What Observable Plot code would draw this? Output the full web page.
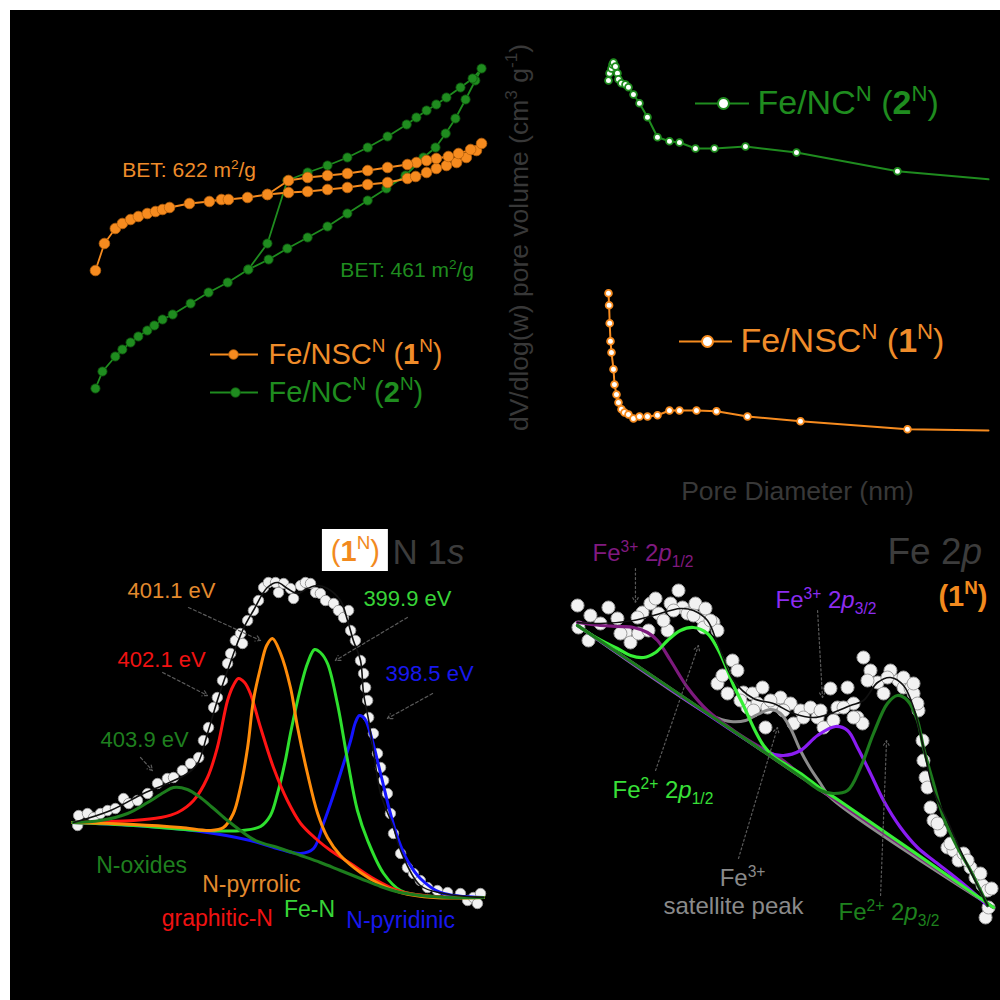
<!DOCTYPE html>
<html>
<head>
<meta charset="utf-8">
<script src="https://cdn.jsdelivr.net/npm/d3@7"></script>
<script src="https://cdn.jsdelivr.net/npm/@observablehq/plot@0.6"></script>
<style>
  html, body { margin: 0; padding: 0; background: #fff; }
  #wrap { position: relative; width: 1000px; height: 1000px; background: #fff; overflow: hidden; }
  #frame { position: absolute; left: 10px; top: 10px; width: 990px; height: 990px; background: #000; }
</style>
</head>
<body>
<div id="wrap"><div id="frame"></div></div>
<script>
// ---------------- DATA ----------------
// Panel 1: N2 sorption isotherms (relative pressure P/P0, quantity adsorbed, a.u.)
const isoFeNSC = [
  [0.005,180],[0.028,207],[0.056,222],[0.074,227],[0.095,231],[0.115,234],[0.138,237],[0.159,239],
  [0.177,241],[0.195,243],[0.246,247],[0.297,249],[0.328,251],[0.346,251],[0.395,253],[0.446,256],
  [0.500,258],[0.549,259],[0.600,261],[0.651,263],[0.703,266],[0.754,268],[0.805,272],[0.826,274],
  [0.854,278],[0.879,282],[0.905,285],[0.931,288],[0.956,293],[0.982,300],[0.995,307],
  [0.967,301],[0.936,297],[0.910,294],[0.879,292],[0.854,290],[0.828,288],[0.805,286],[0.754,283],
  [0.703,280],[0.651,277],[0.600,275],[0.549,273],[0.500,270],[0.446,256]
];
const isoFeNC = [
  [0.005,62],[0.023,79],[0.056,94],[0.074,101],[0.095,108],[0.115,114],[0.138,120],[0.156,125],
  [0.177,131],[0.203,136],[0.249,147],[0.295,158],[0.344,168],[0.397,181],[0.449,191],[0.497,202],
  [0.549,213],[0.600,224],[0.651,237],[0.703,250],[0.751,262],[0.800,275],[0.846,293],[0.877,303],
  [0.903,317],[0.928,332],[0.954,351],[0.979,370],[0.995,382],
  [0.972,372],[0.941,363],[0.905,353],[0.879,346],[0.854,340],[0.828,333],[0.803,326],[0.754,314],
  [0.703,303],[0.651,293],[0.600,285],[0.549,278],[0.497,270],[0.446,207],[0.397,181]
];
const betLabels = [
  {key:"FeNSC", text:"BET: 622 m^{2}/g", p:0.074, v:280},
  {key:"FeNC",  text:"BET: 461 m^{2}/g", p:0.633, v:180}
];
const isoLegend = [
  {key:"FeNSC", label:"Fe/NSC^{N} (**1**^{N})", v:96, p1:0.300, p2:0.423, pm:0.359, pt:0.449},
  {key:"FeNC",  label:"Fe/NC^{N} (**2**^{N})",  v:58, p1:0.300, p2:0.423, pm:0.364, pt:0.449}
];

// Panel 2: pore size distribution (pore diameter nm, dV/dlog(w))
const psdFeNC = [
  [2.0,0.900],[2.5,0.918],[3.5,0.930],[4.0,0.940],[4.5,0.945],[5.5,0.935],[6.5,0.918],[7.0,0.903],
  [8.5,0.893],[10.5,0.890],[12.0,0.883],[14.5,0.865],[17.5,0.843],[21.5,0.808],[26.5,0.758],
  [32.5,0.748],[37.5,0.745],[45.5,0.730],[55.0,0.730],[70.5,0.735],[96.0,0.720],[146.5,0.673],[192.0,0.653]
];
const psdFeNSC = [
  [2.0,0.368],[2.3,0.338],[2.6,0.293],[3.0,0.248],[3.5,0.220],[4.5,0.178],[5.0,0.140],[6.0,0.115],
  [7.0,0.095],[8.5,0.078],[10.0,0.070],[12.0,0.065],[14.5,0.055],[17.5,0.060],[21.5,0.060],
  [26.5,0.063],[32.5,0.075],[37.5,0.075],[46.0,0.075],[56.0,0.073],[71.5,0.060],[98.0,0.048],
  [151.5,0.028],[192.0,0.025]
];
const psdLegend = [
  {key:"FeNC",  label:"Fe/NC^{N} (**2**^{N})",  y:0.8425, x1:45.5, x2:72.5, xm:59.5, xt:76.5},
  {key:"FeNSC", label:"Fe/NSC^{N} (**1**^{N})", y:0.2475, x1:37.5, x2:64.0, xm:51.5, xt:68.0}
];
const psdTitles = [
  {text:"dV/dlog(w) pore volume (cm^{3} g^{-1})", d:-42.5, y:0.5075, rotate:-90},
  {text:"Pore Diameter (nm)", d:96.5, y:-0.1275, rotate:0}
];

// Panel 3: XPS N 1s (binding energy eV, intensity a.u.)
const n1sData = [
  [406.82,75],[406.79,85],[406.53,87],[406.35,83],[406.15,87],[405.94,90],[405.71,92],[405.47,102],
  [405.32,97],[405.06,100],[404.76,107],[404.47,117],[404.18,122],[404.00,123],[403.74,130],[403.50,137],
  [403.26,143],[403.12,160],[402.97,173],[402.82,193],[402.71,203],[402.56,220],[402.41,237],[402.32,247],
  [402.18,260],[402.03,267],[401.97,257],[401.82,280],[401.65,290],[401.50,300],[401.35,313],[401.21,318],
  [401.00,318],[400.91,308],[400.76,317],[400.56,312],[400.47,302],[400.26,315],[400.12,318],[399.97,317],
  [399.82,308],[399.68,307],[399.53,300],[399.29,297],[399.15,290],[399.00,283],[398.85,290],[398.79,270],
  [398.65,260],[398.50,240],[398.41,227],[398.35,213],[398.29,200],[398.26,183],[398.12,167],[398.00,147],
  [397.91,133],[397.82,120],[397.71,107],[397.62,87],[397.53,67],[397.32,47],[397.12,33],[396.94,27],
  [396.74,20],[396.53,13],[396.24,10],[395.94,8],[395.56,7],[395.35,0],[395.18,3],[394.97,7],[395.06,-3]
];
const n1sEnvelope = [
  [406.94,78],[405.85,90],[404.88,107],[404.18,117],[403.59,127],[403.29,137],[403.00,167],[402.71,200],
  [402.41,230],[401.97,270],[401.65,290],[401.24,313],[400.94,318],[400.65,312],[400.35,307],[400.06,312],
  [399.76,315],[399.47,312],[399.09,300],[398.88,280],[398.71,260],[398.50,240],[398.41,207],[398.26,180],
  [398.12,150],[397.91,107],[397.53,73],[397.32,50],[396.74,15],[396.06,7],[394.88,3]
];
const n1sOxides = [
  [406.97,78],[406.15,80],[405.35,87],[404.76,98],[404.29,108],[404.00,113],[403.59,111],[403.21,103],
  [402.82,92],[402.41,80],[402.03,70],[401.59,60],[400.85,52],[400.26,45],[399.68,38],[399.09,30],
  [398.50,22],[397.91,14],[397.32,8],[396.74,5],[395.85,3],[394.88,3]
];
const n1sGraphitic = [
  [406.97,78],[405.18,80],[404.38,83],[403.88,88],[403.41,100],[403.00,123],[402.71,153],[402.41,200],
  [402.24,215],[402.09,222],[401.91,218],[401.74,207],[401.44,173],[401.06,133],[400.65,100],[400.26,77],
  [399.82,62],[399.38,50],[398.79,37],[398.12,22],[397.32,9],[396.35,4],[394.88,3]
];
const n1sPyrrolic = [
  [406.97,78],[405.18,76],[403.79,73],[402.91,70],[402.53,73],[402.24,87],[402.03,113],[401.82,153],
  [401.65,200],[401.44,233],[401.26,255],[401.09,262],[400.85,247],[400.56,213],[400.35,173],[400.06,127],
  [399.76,87],[399.47,63],[399.09,45],[398.50,28],[397.91,16],[397.32,8],[396.35,3],[394.88,3]
];
const n1sFeN = [
  [406.97,78],[405.18,75],[403.21,70],[401.97,70],[401.44,74],[401.15,85],[400.94,107],[400.71,140],
  [400.56,167],[400.26,213],[400.06,237],[399.85,251],[399.68,248],[399.47,237],[399.18,197],[398.88,140],
  [398.59,90],[398.29,60],[397.82,27],[397.32,10],[396.35,4],[394.88,3]
];
const n1sPyridinic = [
  [406.97,78],[405.18,75],[403.21,69],[401.74,60],[400.85,51],[400.26,47],[399.88,52],[399.59,77],
  [399.38,97],[399.09,127],[398.79,160],[398.65,178],[398.53,185],[398.38,182],[398.21,167],[397.91,127],
  [397.62,87],[397.41,63],[397.12,40],[396.74,22],[396.15,8],[394.88,3]
];
const n1sPeakLabels = [
  {key:"pyrrolic",  text:"401.1 eV", be:404.06, i:310},
  {key:"graphitic", text:"402.1 eV", be:404.35, i:241},
  {key:"FeN",       text:"399.9 eV", be:397.12, i:302},
  {key:"pyridinic", text:"398.5 eV", be:396.47, i:227},
  {key:"oxides",    text:"403.9 eV", be:404.85, i:161}
];
const n1sNames = [
  {key:"oxides",    text:"N-oxides",    be:404.94, i:35},
  {key:"pyrrolic",  text:"N-pyrrolic",  be:401.71, i:16},
  {key:"graphitic", text:"graphitic-N", be:402.71, i:-18},
  {key:"FeN",       text:"Fe-N",        be:400.00, i:-9},
  {key:"pyridinic", text:"N-pyridinic", be:397.32, i:-20}
];
const n1sArrows = [
  {be1:403.56, i1:293, be2:401.44, i2:260},
  {be1:404.32, i1:228, be2:403.00, i2:205},
  {be1:397.12, i1:283, be2:399.24, i2:240},
  {be1:396.38, i1:207, be2:397.71, i2:182},
  {be1:404.97, i1:143, be2:404.62, i2:130}
];
const n1sTitleBox = [{be1:399.62, be2:397.68, i1:329, i2:371}];
const n1sSample = [{text:"(**1**^{N})", be:398.65, i:349}];
const n1sTitle = [{text:"N 1*s*", be:397.56, i:348}];

// Panel 4: XPS Fe 2p (binding energy eV, intensity a.u.)
const fe2pData = [
  [731.33,345],[731.27,323],[730.60,310],[729.80,327],[729.27,343],[728.67,332],[728.13,318],[727.80,308],
  [727.27,317],[727.00,338],[726.47,347],[726.13,352],[725.93,337],[725.33,320],[725.13,347],[724.60,360],
  [724.33,343],[724.00,337],[723.47,347],[723.13,333],[722.80,342],[722.27,328],[722.00,320],[722.00,267],
  [721.67,275],[721.00,290],[720.67,280],[720.27,258],[720.00,243],[719.67,257],[719.33,247],[719.00,263],
  [718.67,243],[718.80,223],[718.27,247],[717.80,253],[717.13,247],[716.47,240],[716.93,227],[715.80,243],
  [715.33,233],[714.93,223],[714.47,262],[714.00,243],[713.33,263],[712.93,247],[712.67,233],[712.33,227],
  [712.27,293],[711.80,280],[711.33,268],[710.93,257],[710.47,280],[709.93,270],[709.60,263],[709.13,262],
  [708.93,257],[708.60,240],[708.33,210],[708.27,190],[708.13,173],[707.80,143],[707.60,130],[707.13,120],
  [706.67,103],[706.27,100],[705.93,90],[705.60,97],[705.13,83],[704.80,73],[704.33,65],[704.00,60],
  [703.73,62],[704.13,33],[703.93,43],
  [730.47,335],[728.47,317],[727.33,333],[726.60,320],[725.60,330],[724.93,340],[723.60,335],[722.93,323],
  [722.47,330],[721.33,257],[720.47,250],[719.60,240],[718.47,250],[717.60,240],[716.27,233],[715.13,240],
  [714.27,230],[713.60,243],[712.93,233],[712.00,270],[710.67,273],[709.60,273],[708.93,267],[708.67,247],
  [708.00,163],[707.33,127],[706.47,107],[705.33,90],[704.47,77]
];
const fe2pBackground = [[731.33,325],[703.60,43]];
const fe2pEnvelope = [
  [731.33,328],[729.80,327],[727.60,330],[726.27,335],[724.47,342],[723.60,340],[722.67,330],[722.00,307],
  [720.93,270],[719.60,252],[718.27,247],[716.93,237],[715.60,233],[714.47,237],[713.13,245],[712.27,250],
  [711.33,268],[710.47,273],[709.60,265],[708.93,243],[708.27,203],[707.60,160],[706.67,130],[705.80,100],
  [704.93,73],[704.00,45]
];
const fe3p12 = [
  [731.33,328],[729.80,325],[728.67,324],[727.60,323],[726.67,318],[726.00,310],[725.13,290],[724.00,263],
  [722.67,240],[720.93,220],[719.13,203],[717.80,192],[716.47,176],[715.13,161],[703.60,43]
];
const fe2p12 = [
  [731.33,325],[730.00,312],[728.67,302],[727.80,295],[726.93,293],[726.13,298],[725.33,310],[724.47,320],
  [723.60,323],[722.67,317],[722.00,302],[721.47,285],[720.93,265],[720.27,245],[719.60,223],[718.93,205],
  [718.27,194],[717.33,185],[716.27,175],[715.13,162],[713.80,149],[703.60,43]
];
const fe3Satellite = [
  [731.33,325],[722.80,238],[721.93,232],[721.13,229],[720.13,230],[719.33,236],[718.47,241],[717.80,237],
  [717.13,222],[716.47,200],[715.80,182],[715.13,167],[714.47,153],[703.60,43]
];
const fe3p32 = [
  [731.33,325],[720.13,211],[718.67,198],[717.60,195],[716.47,200],[715.33,215],[714.13,224],[713.33,220],
  [712.67,203],[711.80,177],[710.93,150],[709.80,123],[708.67,103],[707.60,90],[706.47,77],[705.33,63],[704.00,45]
];
const fe2p32 = [
  [731.33,325],[716.47,174],[715.13,160],[714.27,157],[713.33,160],[712.47,183],[711.60,217],[710.67,247],
  [710.00,255],[709.33,250],[708.67,230],[708.27,203],[707.60,167],[706.93,133],[706.00,103],[705.13,80],
  [704.47,60],[704.00,45]
];
const fe2pLabels = [
  {key:"fe3p12", text:"Fe^{3+} 2*p*_{1/2}", be:730.33, i:397},
  {key:"fe3p32", text:"Fe^{3+} 2*p*_{3/2}", be:718.13, i:350},
  {key:"fe2p12", text:"Fe^{2+} 2*p*_{1/2}", be:729.00, i:160},
  {key:"fe2p32", text:"Fe^{2+} 2*p*_{3/2}", be:713.93, i:38}
];
const fe2pSatLabel = [
  {key:"sat", text:"Fe^{3+}",        be:720.33, i:72},
  {key:"sat", text:"satellite peak", be:720.93, i:44}
];
const fe2pArrows = [
  {be1:727.47, i1:382, be2:727.47, i2:348},
  {be1:715.33, i1:340, be2:715.00, i2:253},
  {be1:726.13, i1:180, be2:723.27, i2:305},
  {be1:720.60, i1:92,  be2:718.00, i2:223},
  {be1:711.13, i1:55,  be2:710.73, i2:210}
];
const fe2pTitle = [{text:"Fe 2*p*", be:710.67, i:398}];
const fe2pSample = [{text:"(1^{N})", be:707.27, i:354}];

// ---------------- STYLE ----------------
const FONT = "'Liberation Sans', Arial, Helvetica, sans-serif";
const C = {
  FeNSC: "#f68b1f", FeNSCtext: "#ef8c2a", FeNSCedge: "#b9620d",
  FeNC: "#1f8c1f", FeNCedge: "#0e560e",
  axis: "#383838",
  oxides: "#1d7d1d", graphitic: "#ff1414", pyrrolic: "#ff8c0a", FeN: "#2ee02e", pyridinic: "#1414ff",
  oxidesT: "#1f7f1f", graphiticT: "#f01212", pyrrolicT: "#e38a2e", FeNT: "#38d438", pyridinicT: "#1818ee",
  fe3p12: "#7d1a7d", fe3p32: "#8a1cf2", fe2p12: "#37ef37", fe2p32: "#1c7a1c", sat: "#8c8c8c", bg: "#8f8f8f",
  fe3p12T: "#801a80", fe3p32T: "#8c2cf0", fe2p12T: "#38e038", fe2p32T: "#1e821e", satT: "#8a8a8a",
  title: "#3c3c3c", sample: "#f28a1e", arrow: "#5a5a5a"
};
const BASE = {
  width: 1000, height: 1000, margin: 0,
  style: `position:absolute;left:0;top:0;background:transparent;overflow:visible;font-family:${FONT};`,
  color: {type: "identity"}
};
const X = d => d[0], Y = d => d[1];

// ---------------- PANEL 1 ----------------
const p1 = Plot.plot({
  ...BASE,
  x: {domain: [0, 1], range: [93, 483], axis: null},
  y: {domain: [0, 400], range: [450, 50], axis: null},
  marks: [
    Plot.line(isoFeNC, {x: X, y: Y, stroke: C.FeNC, strokeWidth: 1.8}),
    Plot.dot(isoFeNC, {x: X, y: Y, r: 4.6, fill: C.FeNC, stroke: C.FeNCedge, strokeWidth: 0.8}),
    Plot.line(isoFeNSC, {x: X, y: Y, stroke: C.FeNSC, strokeWidth: 1.8}),
    Plot.dot(isoFeNSC, {x: X, y: Y, r: 5.3, fill: C.FeNSC, stroke: C.FeNSCedge, strokeWidth: 0.8}),
    Plot.text(betLabels, {x: "p", y: "v", text: "text", textAnchor: "start", fontSize: 21, fontFamily: FONT,
      fill: d => d.key === "FeNSC" ? C.FeNSCtext : C.FeNC}),
    Plot.ruleY(isoLegend, {y: "v", x1: "p1", x2: "p2", stroke: d => C[d.key], strokeWidth: 2}),
    Plot.dot(isoLegend, {x: "pm", y: "v", r: 4.8, fill: d => C[d.key], stroke: d => C[d.key + "edge"], strokeWidth: 0.8}),
    Plot.text(isoLegend, {x: "pt", y: "v", text: "label", textAnchor: "start", fontSize: 29, fontFamily: FONT,
      fill: d => d.key === "FeNSC" ? C.FeNSCtext : C.FeNC})
  ]
});

// ---------------- PANEL 2 ----------------
const p2 = Plot.plot({
  ...BASE,
  x: {domain: [0, 195], range: [604, 994], axis: null},
  y: {domain: [0, 1], range: [440, 40], axis: null},
  marks: [
    Plot.line(psdFeNC, {x: X, y: Y, stroke: C.FeNC, strokeWidth: 2}),
    Plot.dot(psdFeNC.slice(0, -1), {x: X, y: Y, r: 3.4, fill: "#fff", stroke: C.FeNC, strokeWidth: 1.8}),
    Plot.line(psdFeNSC, {x: X, y: Y, stroke: C.FeNSC, strokeWidth: 2}),
    Plot.dot(psdFeNSC.slice(0, -1), {x: X, y: Y, r: 3.4, fill: "#fff", stroke: C.FeNSC, strokeWidth: 1.8}),
    Plot.ruleY(psdLegend, {y: "y", x1: "x1", x2: "x2", stroke: d => C[d.key], strokeWidth: 2}),
    Plot.dot(psdLegend, {x: "xm", y: "y", r: 5.5, fill: "#fff", stroke: d => C[d.key], strokeWidth: 2}),
    Plot.text(psdLegend, {x: "xt", y: "y", text: "label", textAnchor: "start", fontSize: 34, fontFamily: FONT,
      fill: d => d.key === "FeNSC" ? C.FeNSCtext : C.FeNC}),
    Plot.text(psdTitles, {x: "d", y: "y", text: "text", rotate: "rotate", textAnchor: "middle", fontSize: 26.5,
      fontFamily: FONT, fill: C.axis})
  ]
});

// ---------------- PANEL 3 ----------------
const p3 = Plot.plot({
  ...BASE,
  x: {domain: [407, 395], range: [71, 479], axis: null},
  y: {domain: [0, 350], range: [900, 550], axis: null},
  marks: [
    Plot.rect(n1sTitleBox, {x1: "be1", x2: "be2", y1: "i1", y2: "i2", fill: "#ffffff"}),
    Plot.text(n1sSample, {x: "be", y: "i", text: "text", textAnchor: "middle", fontSize: 29, fontFamily: FONT, fill: C.sample}),
    Plot.text(n1sTitle, {x: "be", y: "i", text: "text", textAnchor: "start", fontSize: 35, fontFamily: FONT, fill: C.title}),
    Plot.dot(n1sData, {x: X, y: Y, r: 5.2, fill: "#f2f2f2", stroke: "#9a9a9a", strokeWidth: 1}),
    Plot.line(n1sPyridinic, {x: X, y: Y, stroke: C.pyridinic, strokeWidth: 3, curve: "catmull-rom"}),
    Plot.line(n1sFeN, {x: X, y: Y, stroke: C.FeN, strokeWidth: 3, curve: "catmull-rom"}),
    Plot.line(n1sGraphitic, {x: X, y: Y, stroke: C.graphitic, strokeWidth: 3, curve: "catmull-rom"}),
    Plot.line(n1sPyrrolic, {x: X, y: Y, stroke: C.pyrrolic, strokeWidth: 3, curve: "catmull-rom"}),
    Plot.line(n1sOxides, {x: X, y: Y, stroke: C.oxides, strokeWidth: 3, curve: "catmull-rom"}),
    Plot.line(n1sEnvelope, {x: X, y: Y, stroke: "#111", strokeWidth: 1.6, curve: "catmull-rom"}),
    Plot.arrow(n1sArrows, {x1: "be1", y1: "i1", x2: "be2", y2: "i2", stroke: C.arrow, strokeWidth: 1.2,
      strokeDasharray: "3,2.5", headLength: 7}),
    Plot.text(n1sPeakLabels, {x: "be", y: "i", text: "text", textAnchor: "middle", fontSize: 22, fontFamily: FONT,
      fill: d => C[d.key + "T"]}),
    Plot.text(n1sNames, {x: "be", y: "i", text: "text", textAnchor: "middle", fontSize: 23, fontFamily: FONT,
      fill: d => C[d.key + "T"]})
  ]
});

// ---------------- PANEL 4 ----------------
const p4 = Plot.plot({
  ...BASE,
  x: {domain: [732, 702], range: [567, 1017], axis: null},
  y: {domain: [0, 400], range: [950, 550], axis: null},
  marks: [
    Plot.dot(fe2pData, {x: X, y: Y, r: 6.5, fill: "#f2f2f2", stroke: "#a0a0a0", strokeWidth: 1}),
    Plot.line(fe2pBackground, {x: X, y: Y, stroke: C.bg, strokeWidth: 3}),
    Plot.line(fe3Satellite, {x: X, y: Y, stroke: C.sat, strokeWidth: 3, curve: "catmull-rom"}),
    Plot.line(fe3p12, {x: X, y: Y, stroke: C.fe3p12, strokeWidth: 3.2, curve: "catmull-rom"}),
    Plot.line(fe3p32, {x: X, y: Y, stroke: C.fe3p32, strokeWidth: 3.2, curve: "catmull-rom"}),
    Plot.line(fe2p12, {x: X, y: Y, stroke: C.fe2p12, strokeWidth: 3.2, curve: "catmull-rom"}),
    Plot.line(fe2p32, {x: X, y: Y, stroke: C.fe2p32, strokeWidth: 3.2, curve: "catmull-rom"}),
    Plot.line(fe2pEnvelope, {x: X, y: Y, stroke: "#111", strokeWidth: 1.6, curve: "catmull-rom"}),
    Plot.arrow(fe2pArrows, {x1: "be1", y1: "i1", x2: "be2", y2: "i2", stroke: C.arrow, strokeWidth: 1.2,
      strokeDasharray: "2,2.5", headLength: 7}),
    Plot.text(fe2pLabels, {x: "be", y: "i", text: "text", textAnchor: "start", fontSize: 24, fontFamily: FONT,
      fill: d => C[d.key + "T"]}),
    Plot.text(fe2pSatLabel, {x: "be", y: "i", text: "text", textAnchor: "middle", fontSize: 24, fontFamily: FONT,
      fill: C.satT}),
    Plot.text(fe2pTitle, {x: "be", y: "i", text: "text", textAnchor: "start", fontSize: 37, fontFamily: FONT, fill: C.title}),
    Plot.text(fe2pSample, {x: "be", y: "i", text: "text", textAnchor: "start", fontSize: 29, fontWeight: "bold",
      fontFamily: FONT, fill: C.sample})
  ]
});

const wrap = document.getElementById("wrap");
[p1, p2, p3, p4].forEach(s => wrap.appendChild(s));

// ---------- rich text: ^{sup}, _{sub}, **bold**, *italic* ----------
function richify(svg) {
  const re = /(\^\{[^}]*\}|_\{[^}]*\}|\*\*[^*]+\*\*|\*[^*]+\*)/g;
  svg.querySelectorAll("text").forEach(t => {
    const s = t.textContent;
    if (!/[\^_*]/.test(s)) return;
    const fs = parseFloat(getComputedStyle(t).fontSize) || 20;
    const parts = s.split(re).filter(p => p !== "" && p !== undefined);
    while (t.firstChild) t.removeChild(t.firstChild);
    let shift = 0;
    for (const p of parts) {
      const ts = document.createElementNS("http://www.w3.org/2000/svg", "tspan");
      let content = p, target = 0;
      if (p.startsWith("^{")) { content = p.slice(2, -1); target = -0.4 * fs; ts.setAttribute("font-size", (0.65 * fs) + "px"); }
      else if (p.startsWith("_{")) { content = p.slice(2, -1); target = 0.24 * fs; ts.setAttribute("font-size", (0.65 * fs) + "px"); }
      else if (p.startsWith("**")) { content = p.slice(2, -2); ts.setAttribute("font-weight", "bold"); }
      else if (p.startsWith("*")) { content = p.slice(1, -1); ts.setAttribute("font-style", "italic"); }
      if (Math.abs(target - shift) > 1e-6) { ts.setAttribute("dy", (target - shift).toFixed(2) + "px"); shift = target; }
      ts.textContent = content;
      t.appendChild(ts);
    }
  });
}
[p1, p2, p3, p4].forEach(richify);
</script>
</body>
</html>
